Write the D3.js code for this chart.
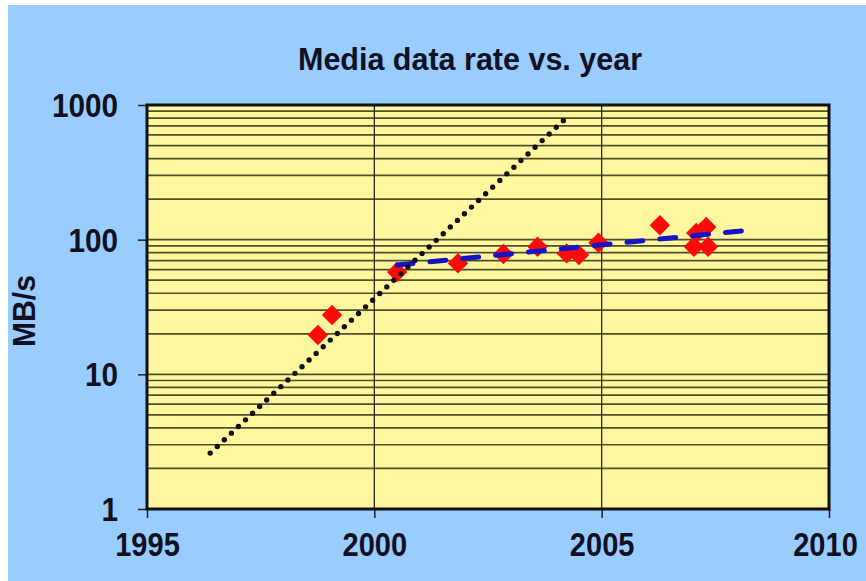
<!DOCTYPE html>
<html>
<head>
<meta charset="utf-8">
<script src="https://cdn.jsdelivr.net/npm/d3@7"></script>
<style>
  html, body { margin: 0; padding: 0; background: #ffffff; }
  svg { display: block; }
  text { font-family: "Liberation Sans", Arial, sans-serif; font-weight: bold; fill: #111122; }
</style>
</head>
<body>
<svg id="chart" width="866" height="581"></svg>
<script>
// Measured drive media data rates (MB/s) by year
const years = [1998.76, 1999.07, 2000.5, 2001.84, 2002.84, 2003.59, 2004.23, 2004.5, 2004.93, 2006.28, 2007.03, 2007.34, 2007.08, 2007.3];
const rates = [19.6, 27.6, 57.5, 66.7, 78.2, 88.6, 79.1, 76.9, 94.9, 128, 88.6, 88.6, 112, 124];

// Early steep growth trend (dotted) and later slow trend (dashed)
const fastTrendYears = [1996.39, 2004.24];
const fastTrendRates = [2.6, 813];
const slowTrendYears = [2000.5, 2008.3];
const slowTrendRates = [64.8, 118];

// Axis ticks
const xTicks = [1995, 2000, 2005, 2010];
const yTicks = [1, 10, 100, 1000];
const yTickLabels = ["1", "10", "100", "1000"];

const title = "Media data rate vs. year";
const yTitle = "MB/s";

const svg = d3.select("#chart");

// Slightly condensed bold lettering
function condense(sel, factor) {
  sel.each(function () {
    const w = this.getComputedTextLength();
    d3.select(this).attr("textLength", w * factor).attr("lengthAdjust", "spacingAndGlyphs");
  });
}

// Chart background
svg.append("rect").attr("x", 8).attr("y", 5).attr("width", 858).attr("height", 576)
  .attr("fill", "#99ccff");

const plot = { left: 147, top: 105, right: 829, bottom: 509 };

const x = d3.scaleLinear().domain([1995, 2010]).range([plot.left, plot.right]);
const y = d3.scaleLog().domain([1, 1000]).range([plot.bottom, plot.top]);

// Plot area fill
svg.append("rect")
  .attr("x", plot.left).attr("y", plot.top)
  .attr("width", plot.right - plot.left).attr("height", plot.bottom - plot.top)
  .attr("fill", "#fff7a0");

// Horizontal gridlines at every log step (1..9 within each decade)
const gridVals = [];
for (let dec = 1; dec < 1000; dec *= 10) {
  for (let m = 1; m <= 9; m++) gridVals.push(dec * m);
}
svg.append("g").selectAll("line").data(gridVals.filter(v => v > 1)).join("line")
  .attr("x1", plot.left).attr("x2", plot.right)
  .attr("y1", d => y(d)).attr("y2", d => y(d))
  .attr("stroke", "#50502a").attr("stroke-width", 1.7);

// Vertical gridlines
svg.append("g").selectAll("line").data(xTicks.filter(v => v > 1995 && v < 2010)).join("line")
  .attr("x1", d => x(d)).attr("x2", d => x(d))
  .attr("y1", plot.top).attr("y2", plot.bottom)
  .attr("stroke", "#2a2a1a").attr("stroke-width", 1.3);

// Axes
const yAxis = d3.axisLeft(y).tickValues(yTicks)
  .tickFormat((d, i) => yTickLabels[i]).tickSize(9).tickPadding(20);
const gy = svg.append("g").attr("transform", `translate(${plot.left},0)`).call(yAxis);
gy.select(".domain").remove();
gy.selectAll(".tick line").attr("stroke", "#222").attr("stroke-width", 1.5);
gy.selectAll(".tick text").attr("font-size", 33).attr("font-family", "Liberation Sans, Arial, sans-serif")
  .attr("font-weight", "bold").attr("fill", "#111122").attr("dy", "0.35em");
condense(gy.selectAll(".tick text"), 0.9);

const xAxis = d3.axisBottom(x).tickValues(xTicks).tickFormat(d3.format("d")).tickSize(9).tickPadding(15);
const gx = svg.append("g").attr("transform", `translate(0,${plot.bottom})`).call(xAxis);
gx.select(".domain").remove();
gx.selectAll(".tick line").attr("stroke", "#222").attr("stroke-width", 1.5);
gx.selectAll(".tick text").attr("font-size", 33).attr("font-family", "Liberation Sans, Arial, sans-serif")
  .attr("font-weight", "bold").attr("fill", "#111122");
condense(gx.selectAll(".tick text"), 0.88);
// keep the last year label inside the frame
gx.selectAll(".tick text").filter(d => d === 2010).attr("x", -4);

// Data markers (diamonds)
const diamond = d3.symbol().type(d3.symbolSquare).size(210);
svg.append("g").selectAll("path").data(years.map((yr, i) => [yr, rates[i]])).join("path")
  .attr("d", diamond)
  .attr("transform", d => `translate(${x(d[0])},${y(d[1])}) rotate(45)`)
  .attr("fill", "#ff0a0a");

const line = d3.line().x(d => x(d[0])).y(d => y(d[1]));

// Slow trend (dashed blue)
svg.append("path")
  .attr("d", line(slowTrendYears.map((yr, i) => [yr, slowTrendRates[i]])))
  .attr("fill", "none").attr("stroke", "#1515c8").attr("stroke-width", 5)
  .attr("stroke-linecap", "round").attr("stroke-dasharray", "16,17");

// Fast trend (dotted black)
svg.append("path")
  .attr("d", line(fastTrendYears.map((yr, i) => [yr, fastTrendRates[i]])))
  .attr("fill", "none").attr("stroke", "#111111").attr("stroke-width", 5.4)
  .attr("stroke-linecap", "round").attr("stroke-dasharray", "0,9.7");

// Plot border
svg.append("rect")
  .attr("x", plot.left).attr("y", plot.top)
  .attr("width", plot.right - plot.left).attr("height", plot.bottom - plot.top)
  .attr("fill", "none").attr("stroke", "#111111").attr("stroke-width", 3);

// Title
const t = svg.append("text").attr("x", 470).attr("y", 70).attr("text-anchor", "middle")
  .attr("font-size", 32).text(title);
t.attr("textLength", 344).attr("lengthAdjust", "spacingAndGlyphs");

// Y axis title
const yt = svg.append("text").attr("transform", "translate(35,311) rotate(-90)")
  .attr("text-anchor", "middle").attr("font-size", 31).text(yTitle);
yt.attr("textLength", 72).attr("lengthAdjust", "spacingAndGlyphs");
</script>
</body>
</html>
